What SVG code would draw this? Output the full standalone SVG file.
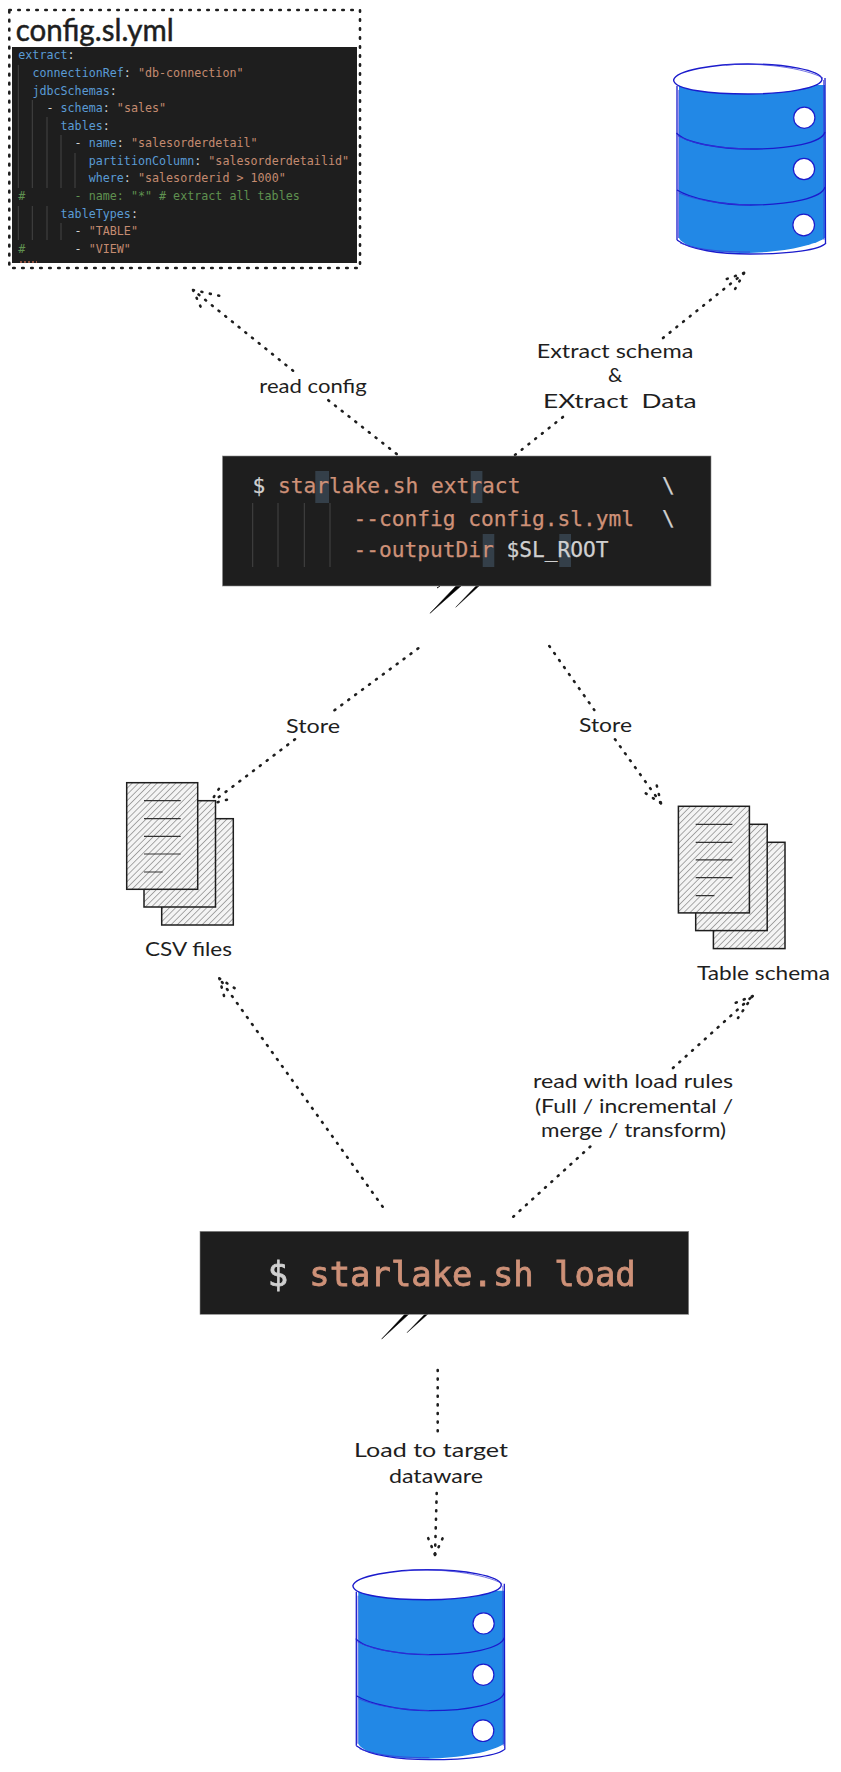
<svg xmlns="http://www.w3.org/2000/svg" width="841" height="1772" viewBox="0 0 841 1772">
<style>
.term{fill:#1e1e1e;stroke:#8a8a8a;stroke-width:.6}
.hand{font-family:"Lato","Liberation Sans",sans-serif;font-size:20px;fill:#1e1e1e;white-space:pre}
.code{font-family:"DejaVu Sans Mono","Liberation Mono",monospace;font-size:11.7px;fill:#d4d4d4;white-space:pre}
.big{font-family:"DejaVu Sans Mono","Liberation Mono",monospace;font-size:21.2px;fill:#ce9178;white-space:pre;stroke:#ce9178;stroke-width:.25}
.huge{font-family:"DejaVu Sans Mono","Liberation Mono",monospace;font-size:33.9px;stroke-width:.8}
.k{fill:#5a9bd5}.s{fill:#c48b70}.g{fill:#5f9150}.w{fill:#d0d0d0;stroke:#d0d0d0}
.dot{fill:none;stroke:#1e1e1e;stroke-width:2.6;stroke-linecap:round;stroke-dasharray:1 7.6}
.guide{stroke:#444;stroke-width:1;fill:none}
.hl{fill:#343f49}
.dbline{fill:none;stroke:#1b1bcc;stroke-width:1.3}
.dbthin{fill:none;stroke:#3a3ad8;stroke-width:.7}
.dbhole{fill:#fff;stroke:#1b1bcc;stroke-width:1.2}
.doc{fill:#fff;stroke:none}
.docf{fill:url(#hatch);stroke:#1e1e1e;stroke-width:1.5}
.docl{stroke:#333;stroke-width:1.2;fill:none}
</style>
<defs>
<pattern id="hatch" width="4.4" height="4.4" patternUnits="userSpaceOnUse" patternTransform="rotate(45)">
<rect width="4.4" height="4.4" fill="#f4f4f4"/>
<line x1="0" y1="0" x2="0" y2="4.4" stroke="#6a6a6a" stroke-width="1.1"/>
</pattern>
<filter id="soft" x="-5%" y="-20%" width="110%" height="140%"><feGaussianBlur stdDeviation=".7"/></filter>
<g id="db">
<path d="M679 85L825 85L825 238C810 248 770 253 745 253C720 253 685 250 679 238Z" fill="#2288e6"/>
<path class="dbline" d="M677 86L677 240M825 78L825.5 243"/>
<path class="dbthin" d="M678.8 90L678.5 238M823.5 80L824 240"/>
<path class="dbline" d="M677 240C690 250 720 254 750 254C790 254 820 250 826 243"/>
<path class="dbthin" d="M680 243C700 251 730 252 750 252"/>
<path d="M673.6 80C676 70 715 64 748 64C785 64 820 70 822 79C822 88 785 94 748 94C712 94 674 90 673.6 80Z" fill="#fff" stroke="#1b1bcc" stroke-width="1.4"/>
<path class="dbthin" d="M726 65C760 62 805 68 823 78"/>
<path class="dbline" d="M676.5 133C685 143 720 149 750 149C790 149 822 143 825 132"/>
<path class="dbthin" d="M678 136C695 145 720 148 750 149"/>
<path class="dbline" d="M677 190C690 198 720 205 750 205C790 205 822 198 825 187"/>
<path class="dbthin" d="M679 193C695 200 720 204 750 205"/>
<circle class="dbhole" cx="804.3" cy="117.7" r="10.6"/>
<circle class="dbhole" cx="804" cy="169" r="10.6"/>
<circle class="dbhole" cx="803.7" cy="225" r="10.8"/>
</g>
<g id="docs">
<rect class="docf" x="161.7" y="818.7" width="71.6" height="106.3"/>
<rect class="doc" x="144" y="800.7" width="71.5" height="106.3"/>
<rect class="docf" x="144" y="800.7" width="71.5" height="106.3"/>
<rect class="doc" x="126.7" y="782.7" width="71" height="106.6"/>
<rect class="docf" x="126.7" y="782.7" width="71" height="106.6"/>
<path class="docl" d="M144 800.7H180.7M144 818.7H180.7M144 836.3H180.7M144 854H180.7M144 872H162.7"/>
</g>
</defs>
<rect width="841" height="1772" fill="#fff"/>

<g id="connectors">
<path class="dot" d="M396.7 454L328 400M293 370.7L193 290"/>
<path class="dot" d="M193 290L225 297M193 290L203 312"/>
<path class="dot" d="M515 455L568 413M663 338L744 273"/>
<path class="dot" d="M744 273L721.7 280.7M744 273L732.3 294"/>
<path class="dot" d="M418.3 648.3L331.7 712.3M295 739.3L209.3 804.3"/>
<path class="dot" d="M209.3 804.3L221.7 784.3M209.3 804.3L232.7 798.3"/>
<path class="dot" d="M549.3 646L594.3 710M615 739.3L661 803.3"/>
<path class="dot" d="M661 803.3L641.7 790.7M661 803.3L655.7 781"/>
<path class="dot" d="M382.7 1206.7L219.3 978.3"/>
<path class="dot" d="M219.3 978.3L239 991M219.3 978.3L225.3 1000.7"/>
<path class="dot" d="M513.3 1216.7L592 1145M673 1068L752.7 996"/>
<path class="dot" d="M752.7 996L730 1005M752.7 996L738 1018"/>
<path class="dot" d="M437.7 1370V1437M436.7 1493L435 1555"/>
<path class="dot" d="M435 1555L426 1532.7M435 1555L445 1533"/>
<path d="M430 613.3L456 586L461 586Z" fill="#000" stroke="#000" stroke-width=".5"/>
<path d="M455.7 607.3L476 586L479 586Z" fill="#000" stroke="#000" stroke-width=".4"/>
<path d="M437 588L440 586" stroke="#000" stroke-width="1" fill="none"/>
<path d="M381.7 1339L405 1314L409 1314Z" fill="#000" stroke="#000" stroke-width=".5"/>
<path d="M407 1332.7L425 1314L428 1314Z" fill="#000" stroke="#000" stroke-width=".4"/>
</g>

<g id="config-file">
<rect x="12" y="47" width="345" height="216" fill="#1e1e1e"/>
<rect x="9.3" y="10" width="350.7" height="258" fill="none" stroke="#1e1e1e" stroke-width="2.6" stroke-linecap="round" stroke-dasharray="1.5 7.5"/>
<path class="guide" d="M18.3 65V188M18.3 206V240M32.3 100V188M32.3 206V240M47 117V188M47 206V240M61 135V188M61 223V240M75 153V188"/>
<path d="M20 262H37" stroke="#b5654f" stroke-width="1.5" stroke-dasharray="2 2" fill="none"/>
<text class="hand" x="15.7" y="41" style="font-size:31px;stroke:#1e1e1e;stroke-width:.5" textLength="158" lengthAdjust="spacingAndGlyphs">config.sl.yml</text>
<text class="code" x="18.3" y="59"><tspan class="k">extract</tspan>:</text>
<text class="code" x="18.3" y="76.6">  <tspan class="k">connectionRef</tspan>: <tspan class="s">"db-connection"</tspan></text>
<text class="code" x="18.3" y="94.5">  <tspan class="k">jdbcSchemas</tspan>:</text>
<text class="code" x="18.3" y="112">    - <tspan class="k">schema</tspan>: <tspan class="s">"sales"</tspan></text>
<text class="code" x="18.3" y="129.7">      <tspan class="k">tables</tspan>:</text>
<text class="code" x="18.3" y="147">        - <tspan class="k">name</tspan>: <tspan class="s">"salesorderdetail"</tspan></text>
<text class="code" x="18.3" y="164.7">          <tspan class="k">partitionColumn</tspan>: <tspan class="s">"salesorderdetailid"</tspan></text>
<text class="code" x="18.3" y="182.4">          <tspan class="k">where</tspan>: <tspan class="s">"salesorderid &gt; 1000"</tspan></text>
<text class="code" x="18.3" y="200"><tspan class="g">#       - name: "*" # extract all tables</tspan></text>
<text class="code" x="18.3" y="218">      <tspan class="k">tableTypes</tspan>:</text>
<text class="code" x="18.3" y="235">        - <tspan class="s">"TABLE"</tspan></text>
<text class="code" x="18.3" y="252.6"><tspan class="g">#</tspan>       - <tspan class="s">"VIEW"</tspan></text>
</g>

<g id="source-db"><use href="#db"/></g>

<g id="extract-command">
<rect class="term" x="222.5" y="456" width="488.5" height="130"/>
<rect class="hl" x="315.3" y="471" width="13.7" height="32"/>
<rect class="hl" x="470.7" y="471" width="11.7" height="32"/>
<rect class="hl" x="482.7" y="534" width="11.6" height="33"/>
<rect class="hl" x="559.3" y="534" width="11.7" height="33"/>
<path class="guide" d="M252.7 503V567M278 503V567M304.3 503V567M330 503V567"/>
<text class="big" x="252.5" y="493"><tspan class="w">$</tspan> starlake.sh extract</text>
<text class="big" x="662" y="493"><tspan class="w">\</tspan></text>
<text class="big" x="353.5" y="526">--config config.sl.yml</text>
<text class="big" x="662" y="526"><tspan class="w">\</tspan></text>
<text class="big" x="353.5" y="557">--outputDir <tspan class="w">$SL_ROOT</tspan></text>
</g>

<g id="csv-files"><use href="#docs"/>
<text class="hand" x="145" y="956" textLength="87" lengthAdjust="spacingAndGlyphs">CSV files</text></g>

<g id="table-schema"><use href="#docs" transform="translate(551.7 23.6)"/>
<text class="hand" x="697" y="980" textLength="133" lengthAdjust="spacingAndGlyphs">Table schema</text></g>

<g id="load-command">
<rect class="term" x="200" y="1231.3" width="488.7" height="83"/>
<g filter="url(#soft)">
<text class="big huge" x="267.7" y="1286"><tspan class="w">$</tspan></text>
<text class="big huge" x="309.3" y="1286">starlake.sh load</text>
</g>
</g>

<g id="target-db"><use href="#db" transform="translate(-320.7 1505.7)"/></g>

<g id="connector-labels">
<text class="hand" x="259.3" y="393" textLength="107.4" lengthAdjust="spacingAndGlyphs">read config</text>
<text class="hand" x="536.7" y="357.7" textLength="156.6" lengthAdjust="spacingAndGlyphs">Extract schema</text>
<text class="hand" x="615" y="381.7" text-anchor="middle">&amp;</text>
<text class="hand" x="543" y="407.7" textLength="153.7" lengthAdjust="spacingAndGlyphs">EXtract  Data</text>
<text class="hand" x="286" y="733" textLength="54" lengthAdjust="spacingAndGlyphs">Store</text>
<text class="hand" x="579" y="732" textLength="53" lengthAdjust="spacingAndGlyphs">Store</text>
<text class="hand" x="533" y="1088" textLength="200" lengthAdjust="spacingAndGlyphs">read with load rules</text>
<text class="hand" x="535" y="1112.7" textLength="198" lengthAdjust="spacingAndGlyphs">(Full / incremental /</text>
<text class="hand" x="541" y="1137" textLength="185" lengthAdjust="spacingAndGlyphs">merge / transform)</text>
<text class="hand" x="354" y="1457" textLength="154" lengthAdjust="spacingAndGlyphs">Load to target</text>
<text class="hand" x="389" y="1482.7" textLength="94" lengthAdjust="spacingAndGlyphs">dataware</text>
</g>
</svg>
